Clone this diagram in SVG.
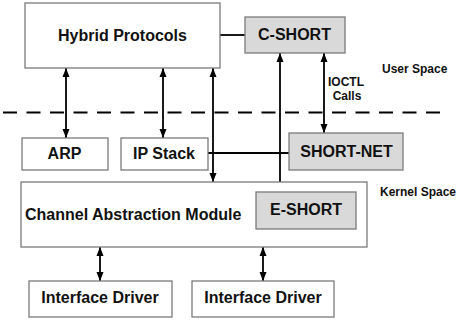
<svg xmlns="http://www.w3.org/2000/svg" width="457" height="325" viewBox="0 0 457 325">
<style>
.box{fill:#ffffff;stroke:#7a7a7a;stroke-width:1.3}
.sbox{fill:#d9d9d9;stroke:#7a7a7a;stroke-width:1.3}
.t{font-family:"Liberation Sans",Arial,sans-serif;font-weight:bold;font-size:16px;fill:#111;text-anchor:middle}
.s{font-family:"Liberation Sans",Arial,sans-serif;font-weight:bold;font-size:12px;fill:#111}
.c{stroke:#000;stroke-width:1.8;fill:none}
.a{marker-start:url(#ah);marker-end:url(#ah)}
</style>
<defs>
<marker id="ah" markerUnits="userSpaceOnUse" markerWidth="10" markerHeight="8" refX="9" refY="4" orient="auto-start-reverse">
<path d="M0,0.5 L9,4 L0,7.5 z" fill="#000"/>
</marker>
</defs>
<rect width="457" height="325" fill="#ffffff"/>
<g id="connectors">
<line class="c" x1="3" y1="112.5" x2="441" y2="112.5" stroke-dasharray="14 9.5" stroke-width="2"/>
<line class="c" x1="220" y1="35" x2="245" y2="35"/>
<line class="c" x1="208" y1="153" x2="289" y2="153"/>
<line class="c a" x1="66" y1="68" x2="66" y2="138"/>
<line class="c a" x1="163" y1="68" x2="163" y2="138"/>
<line class="c a" x1="213" y1="68" x2="213" y2="182"/>
<line class="c a" x1="280" y1="53" x2="280" y2="192"/>
<line class="c a" x1="324" y1="53" x2="324" y2="133"/>
<line class="c a" x1="100" y1="247" x2="100" y2="281"/>
<line class="c a" x1="263" y1="247" x2="263" y2="281"/>
<text class="s" x="346" y="86" text-anchor="middle">IOCTL</text>
<text class="s" x="347" y="100" text-anchor="middle">Calls</text>
</g>
<g id="hybrid"><rect class="box" x="25" y="3" width="195" height="65"/><text class="t" x="122.5" y="41">Hybrid Protocols</text></g>
<g id="cshort"><rect class="sbox" x="245" y="17" width="100" height="36"/><text class="t" x="294.5" y="40">C-SHORT</text></g>
<g id="arp"><rect class="box" x="22" y="138" width="86" height="32"/><text class="t" x="64.5" y="159">ARP</text></g>
<g id="ipstack"><rect class="box" x="121" y="138" width="87" height="32"/><text class="t" x="164" y="159">IP Stack</text></g>
<g id="shortnet"><rect class="sbox" x="289" y="133" width="114" height="37"/><text class="t" x="346.5" y="157">SHORT-NET</text></g>
<g id="cam"><rect class="box" x="21" y="182" width="346" height="65"/><text class="t" x="25" y="220" style="text-anchor:start">Channel Abstraction Module</text></g>
<g id="eshort"><rect class="sbox" x="256" y="192" width="100" height="37"/><text class="t" x="306" y="215">E-SHORT</text></g>
<g id="if1"><rect class="box" x="29" y="281" width="143" height="36"/><text class="t" x="100" y="303">Interface Driver</text></g>
<g id="if2"><rect class="box" x="192" y="281" width="142" height="36"/><text class="t" x="263" y="303">Interface Driver</text></g>
<g id="labels">
<text class="s" x="382" y="73">User Space</text>
<text class="s" x="380" y="196">Kernel Space</text>
</g>
</svg>
